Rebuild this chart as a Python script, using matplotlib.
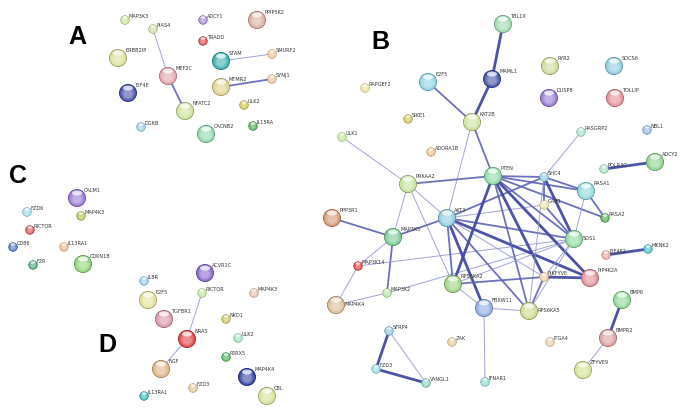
import matplotlib
matplotlib.use("Agg")
import matplotlib.pyplot as plt
from matplotlib.patches import Circle, Ellipse
from matplotlib.colors import to_rgb
import numpy as np

# ---------------- data ----------------
panel_letters = ["A", "B", "C", "D"]
letter_x = [77, 380, 18, 107]
letter_y = [37, 42, 176, 345]

# Panel A
a_names = ["MAP3K3", "PIAS4", "ADCY1", "PPIP5K2", "TRADD", "ERBB2IP", "MEF2C", "STAM", "SMURF2",
           "EIF4E", "MTMR2", "SYNJ1", "NFATC2", "ULK2", "DGKB", "CACNB2", "IL15RA"]
a_x = [125, 153, 203, 257, 203, 118, 168, 221, 272, 128, 221, 272, 185, 244, 141, 206, 253]
a_y = [20, 29, 20, 20, 41, 58, 76, 61, 54, 93, 87, 79, 111, 105, 127, 134, 126]
a_big = [0, 0, 0, 1, 0, 1, 1, 1, 0, 1, 1, 0, 1, 0, 0, 1, 0]
a_col = ["#c5dd95", "#c5e09a", "#9a80d0", "#d8a898", "#d83838", "#d8dc90", "#e0a0a8", "#30a8a8",
         "#f0c088", "#3a44a8", "#dccf88", "#e8c090", "#c8e090", "#c8c040", "#90c8e8", "#88d8a8",
         "#40a848"]
a_edges = [("PIAS4", "MEF2C", 1), ("MEF2C", "NFATC2", 2), ("STAM", "SMURF2", 1), ("MTMR2", "SYNJ1", 2)]

# Panel C
c_names = ["CALM1", "FZD6", "MAP4K3", "RICTOR", "CD86", "IL13RA1", "F2R", "CDKN1B"]
c_x = [77, 27, 81, 30, 13, 64, 33, 83]
c_y = [198, 212, 216, 230, 247, 247, 265, 264]
c_big = [1, 0, 0, 0, 0, 0, 0, 1]
c_col = ["#9070d0", "#90d8e0", "#b0b848", "#d84040", "#3a6ab8", "#e8b880", "#40a070", "#88d070"]
c_edges = []

# Panel D
d_names = ["ACVR1C", "IL8R", "RICTOR", "MAP4K3", "E2F5", "TGFBR1", "NKD1", "NRAS", "ULK2", "P2RX5",
           "NGF", "MAP4K4", "FZD3", "IL13RA1", "CBL"]
d_x = [205, 144, 202, 254, 148, 164, 226, 187, 238, 226, 161, 247, 193, 144, 267]
d_y = [273, 281, 293, 293, 300, 319, 319, 339, 338, 357, 369, 377, 388, 396, 396]
d_big = [1, 0, 0, 0, 1, 1, 0, 1, 0, 0, 1, 1, 0, 0, 1]
d_col = ["#8060c8", "#88c8e8", "#b8e090", "#e8b8a0", "#e0e090", "#d890a0", "#c8c050", "#e03838",
         "#90e0b8", "#40b050", "#e0b080", "#2838a0", "#e0c090", "#30b0b0", "#d0e090"]
d_edges = [("RICTOR", "NRAS", 1), ("NRAS", "NGF", 1)]

# Panel B
b_names = ["TBL1X", "RYR2", "SOCS6", "MAML1", "E2F5", "RAPGEF2", "DUSP8", "TOLLIP", "SIKE1", "KAT2B",
           "RASGRP2", "NBL1", "ULK1", "ADORA1B", "PTEN", "SHC4", "PRKAA2", "POLR3G", "ADCY2",
           "RASA1", "GAB1", "AKT3", "PPP3R1", "RASA2", "MAP3K5", "SOS1", "EIF4E2", "MKNK2",
           "MAP3K14", "RPS6KA2", "PIKFYVE", "PIP4K2A", "MAP3K2", "MAP4K4", "FBXW11", "RPS6KA5",
           "BMP6", "BMPR2", "SFRP4", "ZAK", "ITGA4", "FZD3", "VANGL1", "IFNAR1", "ZFYVE9"]
b_x = [503, 550, 614, 492, 428, 365, 549, 615, 408, 472, 581, 647, 342, 431, 493, 544, 408, 604,
       655, 586, 544, 447, 332, 605, 393, 574, 606, 648, 358, 453, 544, 590, 387, 336, 484, 529,
       622, 608, 389, 452, 550, 376, 426, 485, 583]
b_y = [24, 66, 66, 79, 82, 88, 98, 98, 119, 122, 132, 130, 137, 152, 176, 177, 184, 169, 162,
       191, 205, 218, 218, 218, 237, 239, 255, 249, 266, 284, 277, 278, 293, 305, 308, 311, 300,
       338, 331, 342, 342, 369, 383, 382, 370]
b_big = [1, 1, 1, 1, 1, 0, 1, 1, 0, 1, 0, 0, 0, 0, 1, 0, 1, 0, 1, 1, 0, 1, 1, 0, 1, 1, 0, 0, 0,
         1, 0, 1, 0, 1, 1, 1, 1, 1, 0, 0, 0, 0, 0, 0, 1]
b_col = ["#98d8a8", "#c8d890", "#88c8e0", "#3848a0", "#88d0e0", "#e8e090", "#9070d0", "#e08890",
         "#c8c050", "#c8e090", "#98e0c8", "#88b0e0", "#c0e890", "#f0b880", "#88d8a0", "#88c8e8",
         "#c0e098", "#a0e0c0", "#88d088", "#88d8d8", "#e0e098", "#88c8e0", "#d89070", "#40a840",
         "#70c890", "#88d898", "#e8a090", "#40b8c0", "#e03030", "#98d078", "#f0c898", "#e08890",
         "#a8e098", "#d8b890", "#88a8e0", "#c8d888", "#88d890", "#d89898", "#88c0e8", "#e0c890",
         "#e8c8a0", "#88d8e0", "#80d0c0", "#80d8d0", "#d0e090"]
b_edges = [("TBL1X", "MAML1", 3), ("MAML1", "KAT2B", 3), ("E2F5", "KAT2B", 2), ("KAT2B", "PTEN", 2),
           ("KAT2B", "AKT3", 1), ("ULK1", "PRKAA2", 1), ("RASGRP2", "SHC4", 1), ("POLR3G", "ADCY2", 3),
           ("PRKAA2", "PTEN", 2), ("PRKAA2", "MAP3K5", 1), ("PRKAA2", "AKT3", 1), ("PRKAA2", "RPS6KA2", 1),
           ("PPP3R1", "MAP3K5", 2), ("MAP3K5", "AKT3", 2), ("MAP3K5", "MAP3K14", 1), ("MAP3K5", "MAP3K2", 2),
           ("MAP3K14", "MAP4K4", 1), ("MAP3K2", "MAP4K4", 1), ("MAP3K2", "SOS1", 1), ("MAP3K14", "SOS1", 1),
           ("AKT3", "SHC4", 2), ("AKT3", "GAB1", 1), ("AKT3", "SOS1", 2), ("AKT3", "RPS6KA2", 2),
           ("AKT3", "FBXW11", 3), ("AKT3", "PIP4K2A", 3), ("AKT3", "RPS6KA5", 2), ("AKT3", "PIKFYVE", 1),
           ("PTEN", "RPS6KA2", 3), ("PTEN", "SHC4", 2), ("PTEN", "RASA1", 2), ("PTEN", "RASA2", 2),
           ("PTEN", "SOS1", 2), ("PTEN", "PIKFYVE", 3), ("PTEN", "PIP4K2A", 3), ("PTEN", "RPS6KA5", 2),
           ("SHC4", "GAB1", 2), ("SHC4", "RASA1", 2), ("SHC4", "SOS1", 3), ("SHC4", "RPS6KA5", 1),
           ("RASA1", "RASA2", 2), ("RASA1", "SOS1", 1), ("GAB1", "SOS1", 2), ("SOS1", "RPS6KA2", 1),
           ("SOS1", "PIKFYVE", 1), ("SOS1", "RPS6KA5", 1), ("PIKFYVE", "PIP4K2A", 3),
           ("PIKFYVE", "RPS6KA2", 2), ("PIKFYVE", "RPS6KA5", 2), ("RPS6KA2", "FBXW11", 1),
           ("FBXW11", "RPS6KA5", 1), ("FBXW11", "IFNAR1", 1), ("EIF4E2", "MKNK2", 3),
           ("BMP6", "BMPR2", 3), ("BMPR2", "ZFYVE9", 1), ("SFRP4", "FZD3", 3), ("SFRP4", "VANGL1", 1),
           ("FZD3", "VANGL1", 3)]
b_label_below = ["MAP4K4", "SOS1", "RPS6KA5"]

panels = [
    (a_names, a_x, a_y, a_big, a_col, a_edges, []),
    (b_names, b_x, b_y, b_big, b_col, b_edges, b_label_below),
    (c_names, c_x, c_y, c_big, c_col, c_edges, []),
    (d_names, d_x, d_y, d_big, d_col, d_edges, []),
]

# ---------------- drawing ----------------
W, H = 690, 413
fig = plt.figure(figsize=(W / 100, H / 100), dpi=100)
ax = fig.add_axes([0, 0, 1, 1])
ax.set_xlim(0, W)
ax.set_ylim(H, 0)
ax.set_aspect("equal")
ax.axis("off")

R_BIG, R_SMALL = 9.0, 4.6
edge_style = {1: (0.7, "#8f95cf", 0.85), 2: (1.3, "#5b62b5", 0.9), 3: (2.0, "#4249a6", 0.95)}


def blend(c, t, target=(1, 1, 1)):
    c = np.array(to_rgb(c))
    return tuple(c * (1 - t) + np.array(target) * t)


def sphere(x, y, r, col):
    ax.add_patch(Circle((x, y), r, facecolor=blend(col, 0.35, (0, 0, 0)), edgecolor="none", zorder=3))
    n = 8
    for k in range(n):
        f = k / n
        rr = r * (0.93 - 0.55 * f)
        ax.add_patch(Circle((x, y + r * 0.12 * f), rr, facecolor=blend(col, 0.05 + 0.45 * f),
                            edgecolor="none", zorder=3))
    ax.add_patch(Ellipse((x, y - r * 0.55), r * 1.1, r * 0.55, facecolor="white", alpha=0.75,
                         edgecolor="none", zorder=4))


for names, xs, ys, bigs, cols, edges, below in panels:
    idx = {n: i for i, n in enumerate(names)}
    for s, t, w in edges:
        lw, ec, al = edge_style[w]
        i, j = idx[s], idx[t]
        ax.plot([xs[i], xs[j]], [ys[i], ys[j]], color=ec, lw=lw, alpha=al, zorder=2,
                solid_capstyle="round")
    for n, x, y, b, c in zip(names, xs, ys, bigs, cols):
        r = R_BIG if b else R_SMALL
        sphere(x, y, r, c)
        if n in below:
            ax.text(x + r * 0.95, y - 1, n, fontsize=3.6, color="#333333", ha="left", va="center",
                    zorder=5)
        else:
            ax.text(x + r * 0.75 + 0.5, y - r * 0.85, n, fontsize=3.6, color="#333333", ha="left",
                    va="center", zorder=5)

for L, lx, ly in zip(panel_letters, letter_x, letter_y):
    ax.text(lx, ly, L, fontsize=18, fontweight="bold", family="Liberation Sans", ha="center",
            va="center", color="black")

fig.savefig("out.png", dpi=100, facecolor="white")
